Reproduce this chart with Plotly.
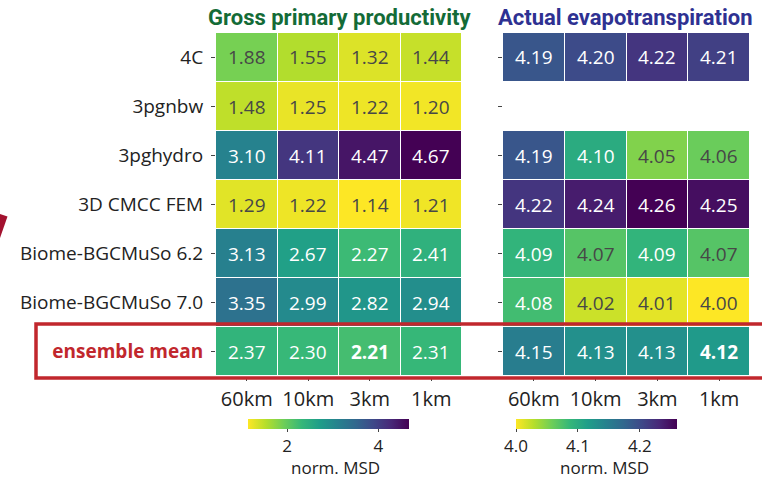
import plotly.graph_objects as go

# ---- data -------------------------------------------------------------
models = ["4C", "3pgnbw", "3pghydro", "3D CMCC FEM",
          "Biome-BGCMuSo 6.2", "Biome-BGCMuSo 7.0", "ensemble mean"]
resolutions = ["60km", "10km", "3km", "1km"]

gpp_msd = [
    [1.88, 1.55, 1.32, 1.44],
    [1.48, 1.25, 1.22, 1.20],
    [3.10, 4.11, 4.47, 4.67],
    [1.29, 1.22, 1.14, 1.21],
    [3.13, 2.67, 2.27, 2.41],
    [3.35, 2.99, 2.82, 2.94],
    [2.37, 2.30, 2.21, 2.31],
]
aet_msd = [
    [4.19, 4.20, 4.22, 4.21],
    [None, None, None, None],
    [4.19, 4.10, 4.05, 4.06],
    [4.22, 4.24, 4.26, 4.25],
    [4.09, 4.07, 4.09, 4.07],
    [4.08, 4.02, 4.01, 4.00],
    [4.15, 4.13, 4.13, 4.12],
]
gpp_ticks = [2, 4]
aet_ticks = [4.0, 4.1, 4.2]
aet_ticktext = ["4.0", "4.1", "4.2"]

# ---- style ------------------------------------------------------------
W, H = 762, 482
FONT = "Open Sans, Noto Sans, sans-serif"
TITLE_FONT = "Liberation Sans Narrow, Roboto, sans-serif"
INK = "#222222"
RED = "#c1272d"
GREEN = "#146b37"
NAVY = "#2e3192"


def px_x(p):
    return p / W


def px_y(p):
    return 1 - p / H


y_dom = [px_y(376), px_y(33)]

tick_labels = [m if m != "ensemble mean"
               else f"<b><span style='color:{RED}'>ensemble mean</span></b>"
               for m in models]


def colorbar(center, tickvals, ticktext=None):
    return dict(
        orientation="h", x=px_x(center), xanchor="center",
        y=px_y(419), yanchor="top", lenmode="pixels", len=161,
        thickness=10, xpad=0, ypad=0, outlinewidth=0,
        tickvals=tickvals, ticktext=ticktext,
        ticks="outside", ticklen=3, tickcolor="#444",
        tickfont=dict(family=FONT, size=17, color=INK),
    )


fig = go.Figure()

fig.add_trace(go.Heatmap(
    z=gpp_msd, x=resolutions, y=models, xaxis="x", yaxis="y",
    colorscale="Viridis", reversescale=True, xgap=1, ygap=1,
    hoverongaps=False,
    colorbar=colorbar(328.5, gpp_ticks),
))

fig.add_trace(go.Heatmap(
    z=aet_msd, x=resolutions, y=models, xaxis="x2", yaxis="y2",
    colorscale="Viridis", reversescale=True, xgap=1, ygap=1,
    hoverongaps=False,
    colorbar=colorbar(596.5, aet_ticks, aet_ticktext),
))


# ---- cell value labels ------------------------------------------------
def cell_labels(z, xref, yref):
    vals = [v for row in z for v in row if v is not None]
    lo, hi = min(vals), max(vals)
    out = []
    last = len(z) - 1
    best = min(z[last])
    for i, row in enumerate(z):
        for j, v in enumerate(row):
            if v is None:
                continue
            frac = (v - lo) / (hi - lo)
            color = "#474747" if frac < 0.275 else "#ffffff"
            txt = f"{v:.2f}"
            if i == last and v == best:
                txt = f"<b>{txt}</b>"
            out.append(dict(
                x=resolutions[j], y=models[i], xref=xref, yref=yref,
                text=txt, showarrow=False,
                font=dict(family=FONT, size=19, color=color),
            ))
    return out


annotations = cell_labels(gpp_msd, "x", "y") + cell_labels(aet_msd, "x2", "y2")


def paper_text(text, x, y, font):
    return dict(text=text, x=px_x(x), y=px_y(y), xref="paper", yref="paper",
                xanchor="center", yanchor="middle", showarrow=False,
                font=font)


annotations += [
    paper_text("<b>Gross primary productivity</b>", 339, 18,
               dict(family=TITLE_FONT, size=22, color=GREEN)),
    paper_text("<b>Actual evapotranspiration</b>", 625, 18,
               dict(family=TITLE_FONT, size=22, color=NAVY)),
    paper_text("norm. MSD", 335, 467, dict(family=FONT, size=17, color=INK)),
    paper_text("norm. MSD", 604, 467, dict(family=FONT, size=17, color=INK)),
]

# ---- highlight frame around the ensemble row + ribbon tip --------------
shapes = [
    dict(type="rect", xref="paper", yref="paper",
         x0=px_x(36), x1=px_x(780), y0=px_y(378), y1=px_y(324),
         line=dict(color=RED, width=3.5), fillcolor="rgba(0,0,0,0)"),
    dict(type="path", xref="paper", yref="paper",
         path=(f"M 0 {px_y(214)} L {px_x(7.5)} {px_y(216.5)} "
               f"L 0 {px_y(238)} Z"),
         fillcolor="#a3122f", line=dict(width=0)),
]

axis_common = dict(
    showgrid=False, zeroline=False, showline=False,
    ticks="outside", ticklen=4, tickcolor="#444", tickwidth=1,
)

fig.update_layout(
    width=W, height=H, autosize=False,
    margin=dict(l=0, r=0, t=0, b=0, pad=0),
    paper_bgcolor="white", plot_bgcolor="white",
    showlegend=False,
    font=dict(family=FONT, color=INK),
    xaxis=dict(domain=[px_x(216), px_x(462)], anchor="y",
               type="category", range=[-0.5, 3.5],
               tickfont=dict(family=FONT, size=20, color=INK),
               ticklabelstandoff=1,
               **axis_common),
    xaxis2=dict(domain=[px_x(503), px_x(750)], anchor="y2",
                type="category", range=[-0.5, 3.5],
                tickfont=dict(family=FONT, size=20, color=INK),
                ticklabelstandoff=1,
                **axis_common),
    yaxis=dict(domain=y_dom, anchor="x", type="category",
               range=[6.5, -0.5], tickvals=models, ticktext=tick_labels,
               tickfont=dict(family=FONT, size=19, color=INK),
               ticklabelstandoff=4,
               **axis_common),
    yaxis2=dict(domain=y_dom, anchor="x2", type="category",
                range=[6.5, -0.5], showticklabels=False,
                **axis_common),
    annotations=annotations,
    shapes=shapes,
)

fig.write_html("out.html")
